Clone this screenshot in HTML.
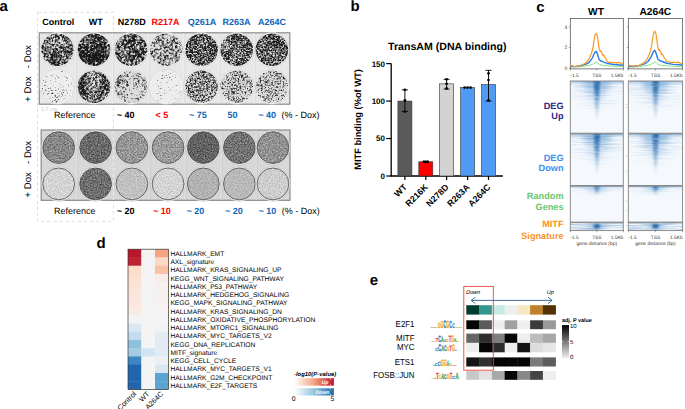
<!DOCTYPE html><html><head><meta charset="utf-8"><style>html,body{margin:0;padding:0;background:#fff;width:685px;height:409px;overflow:hidden}text{font-family:"Liberation Sans", sans-serif;text-rendering:geometricPrecision}</style></head><body><svg width="685" height="409" viewBox="0 0 685 409" style="position:absolute;left:0;top:0;font-family:'Liberation Sans', sans-serif"><defs><filter id="n1" x="0" y="0" width="1" height="1" color-interpolation-filters="sRGB"><feTurbulence type="fractalNoise" baseFrequency="0.45" numOctaves="3" seed="1" result="h0"/><feColorMatrix in="h0" type="matrix" values="1 0 0 0 0 1 0 0 0 0 1 0 0 0 0 0 0 0 0 1" result="h"/><feTurbulence type="fractalNoise" baseFrequency="0.08" numOctaves="2" seed="51" result="l0"/><feColorMatrix in="l0" type="matrix" values="1 0 0 0 0 1 0 0 0 0 1 0 0 0 0 0 0 0 0 1" result="l"/><feComposite in="h" in2="l" operator="arithmetic" k1="0" k2="0.68966" k3="0.31034" k4="0" result="s"/><feComponentTransfer in="s"><feFuncR type="linear" slope="4.3500" intercept="-1.7345"/><feFuncG type="linear" slope="4.3500" intercept="-1.7345"/><feFuncB type="linear" slope="4.3500" intercept="-1.7345"/></feComponentTransfer><feComponentTransfer><feFuncR type="linear" slope="0.770" intercept="0.1"/><feFuncG type="linear" slope="0.770" intercept="0.1"/><feFuncB type="linear" slope="0.770" intercept="0.1"/></feComponentTransfer><feGaussianBlur stdDeviation="0.5"/><feComposite operator="in" in2="SourceGraphic"/></filter><filter id="n2" x="0" y="0" width="1" height="1" color-interpolation-filters="sRGB"><feTurbulence type="fractalNoise" baseFrequency="0.45" numOctaves="3" seed="2" result="h0"/><feColorMatrix in="h0" type="matrix" values="1 0 0 0 0 1 0 0 0 0 1 0 0 0 0 0 0 0 0 1" result="h"/><feTurbulence type="fractalNoise" baseFrequency="0.08" numOctaves="2" seed="52" result="l0"/><feColorMatrix in="l0" type="matrix" values="1 0 0 0 0 1 0 0 0 0 1 0 0 0 0 0 0 0 0 1" result="l"/><feComposite in="h" in2="l" operator="arithmetic" k1="0" k2="0.68966" k3="0.31034" k4="0" result="s"/><feComponentTransfer in="s"><feFuncR type="linear" slope="4.3500" intercept="-2.1153"/><feFuncG type="linear" slope="4.3500" intercept="-2.1153"/><feFuncB type="linear" slope="4.3500" intercept="-2.1153"/></feComponentTransfer><feComponentTransfer><feFuncR type="linear" slope="0.770" intercept="0.1"/><feFuncG type="linear" slope="0.770" intercept="0.1"/><feFuncB type="linear" slope="0.770" intercept="0.1"/></feComponentTransfer><feGaussianBlur stdDeviation="0.5"/><feComposite operator="in" in2="SourceGraphic"/></filter><filter id="n3" x="0" y="0" width="1" height="1" color-interpolation-filters="sRGB"><feTurbulence type="fractalNoise" baseFrequency="0.45" numOctaves="3" seed="3" result="h0"/><feColorMatrix in="h0" type="matrix" values="1 0 0 0 0 1 0 0 0 0 1 0 0 0 0 0 0 0 0 1" result="h"/><feTurbulence type="fractalNoise" baseFrequency="0.08" numOctaves="2" seed="53" result="l0"/><feColorMatrix in="l0" type="matrix" values="1 0 0 0 0 1 0 0 0 0 1 0 0 0 0 0 0 0 0 1" result="l"/><feComposite in="h" in2="l" operator="arithmetic" k1="0" k2="0.68966" k3="0.31034" k4="0" result="s"/><feComponentTransfer in="s"><feFuncR type="linear" slope="4.3500" intercept="-1.7505"/><feFuncG type="linear" slope="4.3500" intercept="-1.7505"/><feFuncB type="linear" slope="4.3500" intercept="-1.7505"/></feComponentTransfer><feComponentTransfer><feFuncR type="linear" slope="0.770" intercept="0.1"/><feFuncG type="linear" slope="0.770" intercept="0.1"/><feFuncB type="linear" slope="0.770" intercept="0.1"/></feComponentTransfer><feGaussianBlur stdDeviation="0.5"/><feComposite operator="in" in2="SourceGraphic"/></filter><filter id="n4" x="0" y="0" width="1" height="1" color-interpolation-filters="sRGB"><feTurbulence type="fractalNoise" baseFrequency="0.45" numOctaves="3" seed="4" result="h0"/><feColorMatrix in="h0" type="matrix" values="1 0 0 0 0 1 0 0 0 0 1 0 0 0 0 0 0 0 0 1" result="h"/><feTurbulence type="fractalNoise" baseFrequency="0.08" numOctaves="2" seed="54" result="l0"/><feColorMatrix in="l0" type="matrix" values="1 0 0 0 0 1 0 0 0 0 1 0 0 0 0 0 0 0 0 1" result="l"/><feComposite in="h" in2="l" operator="arithmetic" k1="0" k2="0.68966" k3="0.31034" k4="0" result="s"/><feComponentTransfer in="s"><feFuncR type="linear" slope="4.3500" intercept="-1.4801"/><feFuncG type="linear" slope="4.3500" intercept="-1.4801"/><feFuncB type="linear" slope="4.3500" intercept="-1.4801"/></feComponentTransfer><feComponentTransfer><feFuncR type="linear" slope="0.770" intercept="0.1"/><feFuncG type="linear" slope="0.770" intercept="0.1"/><feFuncB type="linear" slope="0.770" intercept="0.1"/></feComponentTransfer><feGaussianBlur stdDeviation="0.5"/><feComposite operator="in" in2="SourceGraphic"/></filter><filter id="n5" x="0" y="0" width="1" height="1" color-interpolation-filters="sRGB"><feTurbulence type="fractalNoise" baseFrequency="0.6" numOctaves="3" seed="5" result="h0"/><feColorMatrix in="h0" type="matrix" values="1 0 0 0 0 1 0 0 0 0 1 0 0 0 0 0 0 0 0 1" result="h"/><feTurbulence type="fractalNoise" baseFrequency="0.1" numOctaves="2" seed="55" result="l0"/><feColorMatrix in="l0" type="matrix" values="1 0 0 0 0 1 0 0 0 0 1 0 0 0 0 0 0 0 0 1" result="l"/><feComposite in="h" in2="l" operator="arithmetic" k1="0" k2="0.76923" k3="0.23077" k4="0" result="s"/><feComponentTransfer in="s"><feFuncR type="linear" slope="3.9000" intercept="-1.6120"/><feFuncG type="linear" slope="3.9000" intercept="-1.6120"/><feFuncB type="linear" slope="3.9000" intercept="-1.6120"/></feComponentTransfer><feComponentTransfer><feFuncR type="linear" slope="0.770" intercept="0.1"/><feFuncG type="linear" slope="0.770" intercept="0.1"/><feFuncB type="linear" slope="0.770" intercept="0.1"/></feComponentTransfer><feGaussianBlur stdDeviation="0.45"/><feComposite operator="in" in2="SourceGraphic"/></filter><filter id="n6" x="0" y="0" width="1" height="1" color-interpolation-filters="sRGB"><feTurbulence type="fractalNoise" baseFrequency="0.6" numOctaves="3" seed="6" result="h0"/><feColorMatrix in="h0" type="matrix" values="1 0 0 0 0 1 0 0 0 0 1 0 0 0 0 0 0 0 0 1" result="h"/><feTurbulence type="fractalNoise" baseFrequency="0.1" numOctaves="2" seed="56" result="l0"/><feColorMatrix in="l0" type="matrix" values="1 0 0 0 0 1 0 0 0 0 1 0 0 0 0 0 0 0 0 1" result="l"/><feComposite in="h" in2="l" operator="arithmetic" k1="0" k2="0.76923" k3="0.23077" k4="0" result="s"/><feComponentTransfer in="s"><feFuncR type="linear" slope="3.9000" intercept="-1.5513"/><feFuncG type="linear" slope="3.9000" intercept="-1.5513"/><feFuncB type="linear" slope="3.9000" intercept="-1.5513"/></feComponentTransfer><feComponentTransfer><feFuncR type="linear" slope="0.770" intercept="0.1"/><feFuncG type="linear" slope="0.770" intercept="0.1"/><feFuncB type="linear" slope="0.770" intercept="0.1"/></feComponentTransfer><feGaussianBlur stdDeviation="0.45"/><feComposite operator="in" in2="SourceGraphic"/></filter><filter id="n7" x="0" y="0" width="1" height="1" color-interpolation-filters="sRGB"><feTurbulence type="fractalNoise" baseFrequency="0.6" numOctaves="3" seed="7" result="h0"/><feColorMatrix in="h0" type="matrix" values="1 0 0 0 0 1 0 0 0 0 1 0 0 0 0 0 0 0 0 1" result="h"/><feTurbulence type="fractalNoise" baseFrequency="0.1" numOctaves="2" seed="57" result="l0"/><feColorMatrix in="l0" type="matrix" values="1 0 0 0 0 1 0 0 0 0 1 0 0 0 0 0 0 0 0 1" result="l"/><feComposite in="h" in2="l" operator="arithmetic" k1="0" k2="0.76923" k3="0.23077" k4="0" result="s"/><feComponentTransfer in="s"><feFuncR type="linear" slope="3.9000" intercept="-1.6012"/><feFuncG type="linear" slope="3.9000" intercept="-1.6012"/><feFuncB type="linear" slope="3.9000" intercept="-1.6012"/></feComponentTransfer><feComponentTransfer><feFuncR type="linear" slope="0.770" intercept="0.1"/><feFuncG type="linear" slope="0.770" intercept="0.1"/><feFuncB type="linear" slope="0.770" intercept="0.1"/></feComponentTransfer><feGaussianBlur stdDeviation="0.45"/><feComposite operator="in" in2="SourceGraphic"/></filter><filter id="n8" x="0" y="0" width="1" height="1" color-interpolation-filters="sRGB"><feTurbulence type="fractalNoise" baseFrequency="0.6" numOctaves="2" seed="8" result="h0"/><feColorMatrix in="h0" type="matrix" values="1 0 0 0 0 1 0 0 0 0 1 0 0 0 0 0 0 0 0 1" result="h"/><feTurbulence type="fractalNoise" baseFrequency="0.08" numOctaves="2" seed="58" result="l0"/><feColorMatrix in="l0" type="matrix" values="1 0 0 0 0 1 0 0 0 0 1 0 0 0 0 0 0 0 0 1" result="l"/><feComposite in="h" in2="l" operator="arithmetic" k1="0" k2="0.68966" k3="0.31034" k4="0" result="s"/><feComponentTransfer in="s"><feFuncR type="linear" slope="4.3500" intercept="-0.8199"/><feFuncG type="linear" slope="4.3500" intercept="-0.8199"/><feFuncB type="linear" slope="4.3500" intercept="-0.8199"/></feComponentTransfer><feComponentTransfer><feFuncR type="linear" slope="0.830" intercept="0.1"/><feFuncG type="linear" slope="0.830" intercept="0.1"/><feFuncB type="linear" slope="0.830" intercept="0.1"/></feComponentTransfer><feGaussianBlur stdDeviation="0.45"/><feComposite operator="in" in2="SourceGraphic"/></filter><filter id="n9" x="0" y="0" width="1" height="1" color-interpolation-filters="sRGB"><feTurbulence type="fractalNoise" baseFrequency="0.45" numOctaves="3" seed="9" result="h0"/><feColorMatrix in="h0" type="matrix" values="1 0 0 0 0 1 0 0 0 0 1 0 0 0 0 0 0 0 0 1" result="h"/><feTurbulence type="fractalNoise" baseFrequency="0.08" numOctaves="2" seed="59" result="l0"/><feColorMatrix in="l0" type="matrix" values="1 0 0 0 0 1 0 0 0 0 1 0 0 0 0 0 0 0 0 1" result="l"/><feComposite in="h" in2="l" operator="arithmetic" k1="0" k2="0.68966" k3="0.31034" k4="0" result="s"/><feComponentTransfer in="s"><feFuncR type="linear" slope="4.3500" intercept="-1.7468"/><feFuncG type="linear" slope="4.3500" intercept="-1.7468"/><feFuncB type="linear" slope="4.3500" intercept="-1.7468"/></feComponentTransfer><feComponentTransfer><feFuncR type="linear" slope="0.770" intercept="0.1"/><feFuncG type="linear" slope="0.770" intercept="0.1"/><feFuncB type="linear" slope="0.770" intercept="0.1"/></feComponentTransfer><feGaussianBlur stdDeviation="0.5"/><feComposite operator="in" in2="SourceGraphic"/></filter><filter id="n10" x="0" y="0" width="1" height="1" color-interpolation-filters="sRGB"><feTurbulence type="fractalNoise" baseFrequency="0.45" numOctaves="3" seed="10" result="h0"/><feColorMatrix in="h0" type="matrix" values="1 0 0 0 0 1 0 0 0 0 1 0 0 0 0 0 0 0 0 1" result="h"/><feTurbulence type="fractalNoise" baseFrequency="0.08" numOctaves="2" seed="60" result="l0"/><feColorMatrix in="l0" type="matrix" values="1 0 0 0 0 1 0 0 0 0 1 0 0 0 0 0 0 0 0 1" result="l"/><feComposite in="h" in2="l" operator="arithmetic" k1="0" k2="0.68966" k3="0.31034" k4="0" result="s"/><feComponentTransfer in="s"><feFuncR type="linear" slope="4.3500" intercept="-1.2639"/><feFuncG type="linear" slope="4.3500" intercept="-1.2639"/><feFuncB type="linear" slope="4.3500" intercept="-1.2639"/></feComponentTransfer><feComponentTransfer><feFuncR type="linear" slope="0.770" intercept="0.1"/><feFuncG type="linear" slope="0.770" intercept="0.1"/><feFuncB type="linear" slope="0.770" intercept="0.1"/></feComponentTransfer><feGaussianBlur stdDeviation="0.5"/><feComposite operator="in" in2="SourceGraphic"/></filter><filter id="n11" x="0" y="0" width="1" height="1" color-interpolation-filters="sRGB"><feTurbulence type="fractalNoise" baseFrequency="0.6" numOctaves="2" seed="11" result="h0"/><feColorMatrix in="h0" type="matrix" values="1 0 0 0 0 1 0 0 0 0 1 0 0 0 0 0 0 0 0 1" result="h"/><feTurbulence type="fractalNoise" baseFrequency="0.08" numOctaves="2" seed="61" result="l0"/><feColorMatrix in="l0" type="matrix" values="1 0 0 0 0 1 0 0 0 0 1 0 0 0 0 0 0 0 0 1" result="l"/><feComposite in="h" in2="l" operator="arithmetic" k1="0" k2="0.68966" k3="0.31034" k4="0" result="s"/><feComponentTransfer in="s"><feFuncR type="linear" slope="4.3500" intercept="-0.6969"/><feFuncG type="linear" slope="4.3500" intercept="-0.6969"/><feFuncB type="linear" slope="4.3500" intercept="-0.6969"/></feComponentTransfer><feComponentTransfer><feFuncR type="linear" slope="0.830" intercept="0.1"/><feFuncG type="linear" slope="0.830" intercept="0.1"/><feFuncB type="linear" slope="0.830" intercept="0.1"/></feComponentTransfer><feGaussianBlur stdDeviation="0.45"/><feComposite operator="in" in2="SourceGraphic"/></filter><filter id="n12" x="0" y="0" width="1" height="1" color-interpolation-filters="sRGB"><feTurbulence type="fractalNoise" baseFrequency="0.6" numOctaves="3" seed="12" result="h0"/><feColorMatrix in="h0" type="matrix" values="1 0 0 0 0 1 0 0 0 0 1 0 0 0 0 0 0 0 0 1" result="h"/><feTurbulence type="fractalNoise" baseFrequency="0.1" numOctaves="2" seed="62" result="l0"/><feColorMatrix in="l0" type="matrix" values="1 0 0 0 0 1 0 0 0 0 1 0 0 0 0 0 0 0 0 1" result="l"/><feComposite in="h" in2="l" operator="arithmetic" k1="0" k2="0.76923" k3="0.23077" k4="0" result="s"/><feComponentTransfer in="s"><feFuncR type="linear" slope="3.9000" intercept="-1.3485"/><feFuncG type="linear" slope="3.9000" intercept="-1.3485"/><feFuncB type="linear" slope="3.9000" intercept="-1.3485"/></feComponentTransfer><feComponentTransfer><feFuncR type="linear" slope="0.770" intercept="0.1"/><feFuncG type="linear" slope="0.770" intercept="0.1"/><feFuncB type="linear" slope="0.770" intercept="0.1"/></feComponentTransfer><feGaussianBlur stdDeviation="0.45"/><feComposite operator="in" in2="SourceGraphic"/></filter><filter id="n13" x="0" y="0" width="1" height="1" color-interpolation-filters="sRGB"><feTurbulence type="fractalNoise" baseFrequency="0.6" numOctaves="3" seed="13" result="h0"/><feColorMatrix in="h0" type="matrix" values="1 0 0 0 0 1 0 0 0 0 1 0 0 0 0 0 0 0 0 1" result="h"/><feTurbulence type="fractalNoise" baseFrequency="0.1" numOctaves="2" seed="63" result="l0"/><feColorMatrix in="l0" type="matrix" values="1 0 0 0 0 1 0 0 0 0 1 0 0 0 0 0 0 0 0 1" result="l"/><feComposite in="h" in2="l" operator="arithmetic" k1="0" k2="0.76923" k3="0.23077" k4="0" result="s"/><feComponentTransfer in="s"><feFuncR type="linear" slope="3.9000" intercept="-1.1314"/><feFuncG type="linear" slope="3.9000" intercept="-1.1314"/><feFuncB type="linear" slope="3.9000" intercept="-1.1314"/></feComponentTransfer><feComponentTransfer><feFuncR type="linear" slope="0.770" intercept="0.1"/><feFuncG type="linear" slope="0.770" intercept="0.1"/><feFuncB type="linear" slope="0.770" intercept="0.1"/></feComponentTransfer><feGaussianBlur stdDeviation="0.45"/><feComposite operator="in" in2="SourceGraphic"/></filter><filter id="n14" x="0" y="0" width="1" height="1" color-interpolation-filters="sRGB"><feTurbulence type="fractalNoise" baseFrequency="0.6" numOctaves="3" seed="14" result="h0"/><feColorMatrix in="h0" type="matrix" values="1 0 0 0 0 1 0 0 0 0 1 0 0 0 0 0 0 0 0 1" result="h"/><feTurbulence type="fractalNoise" baseFrequency="0.1" numOctaves="2" seed="64" result="l0"/><feColorMatrix in="l0" type="matrix" values="1 0 0 0 0 1 0 0 0 0 1 0 0 0 0 0 0 0 0 1" result="l"/><feComposite in="h" in2="l" operator="arithmetic" k1="0" k2="0.76923" k3="0.23077" k4="0" result="s"/><feComponentTransfer in="s"><feFuncR type="linear" slope="3.9000" intercept="-1.0968"/><feFuncG type="linear" slope="3.9000" intercept="-1.0968"/><feFuncB type="linear" slope="3.9000" intercept="-1.0968"/></feComponentTransfer><feComponentTransfer><feFuncR type="linear" slope="0.770" intercept="0.1"/><feFuncG type="linear" slope="0.770" intercept="0.1"/><feFuncB type="linear" slope="0.770" intercept="0.1"/></feComponentTransfer><feGaussianBlur stdDeviation="0.45"/><feComposite operator="in" in2="SourceGraphic"/></filter><filter id="n15" x="0" y="0" width="1" height="1" color-interpolation-filters="sRGB"><feTurbulence type="fractalNoise" baseFrequency="0.72" numOctaves="2" seed="15"/><feColorMatrix type="matrix" values="0.62 0 0 0 0.2196 0.62 0 0 0 0.2196 0.62 0 0 0 0.2196 0 0 0 0 1"/><feGaussianBlur stdDeviation="0.15"/><feComposite operator="in" in2="SourceGraphic"/></filter><filter id="n16" x="0" y="0" width="1" height="1" color-interpolation-filters="sRGB"><feTurbulence type="fractalNoise" baseFrequency="0.72" numOctaves="2" seed="16"/><feColorMatrix type="matrix" values="0.62 0 0 0 0.1023 0.62 0 0 0 0.1023 0.62 0 0 0 0.1023 0 0 0 0 1"/><feGaussianBlur stdDeviation="0.15"/><feComposite operator="in" in2="SourceGraphic"/></filter><filter id="n17" x="0" y="0" width="1" height="1" color-interpolation-filters="sRGB"><feTurbulence type="fractalNoise" baseFrequency="0.72" numOctaves="2" seed="17"/><feColorMatrix type="matrix" values="0.62 0 0 0 0.2790 0.62 0 0 0 0.2790 0.62 0 0 0 0.2790 0 0 0 0 1"/><feGaussianBlur stdDeviation="0.15"/><feComposite operator="in" in2="SourceGraphic"/></filter><filter id="n18" x="0" y="0" width="1" height="1" color-interpolation-filters="sRGB"><feTurbulence type="fractalNoise" baseFrequency="0.72" numOctaves="2" seed="18"/><feColorMatrix type="matrix" values="0.62 0 0 0 0.2979 0.62 0 0 0 0.2979 0.62 0 0 0 0.2979 0 0 0 0 1"/><feGaussianBlur stdDeviation="0.15"/><feComposite operator="in" in2="SourceGraphic"/></filter><filter id="n19" x="0" y="0" width="1" height="1" color-interpolation-filters="sRGB"><feTurbulence type="fractalNoise" baseFrequency="0.72" numOctaves="2" seed="19"/><feColorMatrix type="matrix" values="0.62 0 0 0 0.0721 0.62 0 0 0 0.0721 0.62 0 0 0 0.0721 0 0 0 0 1"/><feGaussianBlur stdDeviation="0.15"/><feComposite operator="in" in2="SourceGraphic"/></filter><filter id="n20" x="0" y="0" width="1" height="1" color-interpolation-filters="sRGB"><feTurbulence type="fractalNoise" baseFrequency="0.72" numOctaves="2" seed="20"/><feColorMatrix type="matrix" values="0.62 0 0 0 0.1424 0.62 0 0 0 0.1424 0.62 0 0 0 0.1424 0 0 0 0 1"/><feGaussianBlur stdDeviation="0.15"/><feComposite operator="in" in2="SourceGraphic"/></filter><filter id="n21" x="0" y="0" width="1" height="1" color-interpolation-filters="sRGB"><feTurbulence type="fractalNoise" baseFrequency="0.72" numOctaves="2" seed="21"/><feColorMatrix type="matrix" values="0.62 0 0 0 0.2593 0.62 0 0 0 0.2593 0.62 0 0 0 0.2593 0 0 0 0 1"/><feGaussianBlur stdDeviation="0.15"/><feComposite operator="in" in2="SourceGraphic"/></filter><filter id="n22" x="0" y="0" width="1" height="1" color-interpolation-filters="sRGB"><feTurbulence type="fractalNoise" baseFrequency="0.72" numOctaves="2" seed="22"/><feColorMatrix type="matrix" values="0.32 0 0 0 0.6736 0.32 0 0 0 0.6736 0.32 0 0 0 0.6736 0 0 0 0 1"/><feGaussianBlur stdDeviation="0.15"/><feComposite operator="in" in2="SourceGraphic"/></filter><filter id="n23" x="0" y="0" width="1" height="1" color-interpolation-filters="sRGB"><feTurbulence type="fractalNoise" baseFrequency="0.72" numOctaves="2" seed="23"/><feColorMatrix type="matrix" values="0.62 0 0 0 0.1228 0.62 0 0 0 0.1228 0.62 0 0 0 0.1228 0 0 0 0 1"/><feGaussianBlur stdDeviation="0.15"/><feComposite operator="in" in2="SourceGraphic"/></filter><filter id="n24" x="0" y="0" width="1" height="1" color-interpolation-filters="sRGB"><feTurbulence type="fractalNoise" baseFrequency="0.72" numOctaves="2" seed="24"/><feColorMatrix type="matrix" values="0.32 0 0 0 0.5946 0.32 0 0 0 0.5946 0.32 0 0 0 0.5946 0 0 0 0 1"/><feGaussianBlur stdDeviation="0.15"/><feComposite operator="in" in2="SourceGraphic"/></filter><filter id="n25" x="0" y="0" width="1" height="1" color-interpolation-filters="sRGB"><feTurbulence type="fractalNoise" baseFrequency="0.72" numOctaves="2" seed="25"/><feColorMatrix type="matrix" values="0.32 0 0 0 0.6721 0.32 0 0 0 0.6721 0.32 0 0 0 0.6721 0 0 0 0 1"/><feGaussianBlur stdDeviation="0.15"/><feComposite operator="in" in2="SourceGraphic"/></filter><filter id="n26" x="0" y="0" width="1" height="1" color-interpolation-filters="sRGB"><feTurbulence type="fractalNoise" baseFrequency="0.72" numOctaves="2" seed="26"/><feColorMatrix type="matrix" values="0.32 0 0 0 0.5375 0.32 0 0 0 0.5375 0.32 0 0 0 0.5375 0 0 0 0 1"/><feGaussianBlur stdDeviation="0.15"/><feComposite operator="in" in2="SourceGraphic"/></filter><filter id="n27" x="0" y="0" width="1" height="1" color-interpolation-filters="sRGB"><feTurbulence type="fractalNoise" baseFrequency="0.72" numOctaves="2" seed="27"/><feColorMatrix type="matrix" values="0.32 0 0 0 0.5658 0.32 0 0 0 0.5658 0.32 0 0 0 0.5658 0 0 0 0 1"/><feGaussianBlur stdDeviation="0.15"/><feComposite operator="in" in2="SourceGraphic"/></filter><filter id="n28" x="0" y="0" width="1" height="1" color-interpolation-filters="sRGB"><feTurbulence type="fractalNoise" baseFrequency="0.72" numOctaves="2" seed="28"/><feColorMatrix type="matrix" values="0.32 0 0 0 0.6461 0.32 0 0 0 0.6461 0.32 0 0 0 0.6461 0 0 0 0 1"/><feGaussianBlur stdDeviation="0.15"/><feComposite operator="in" in2="SourceGraphic"/></filter><filter id="bl1" x="-0.5" y="-0.5" width="2" height="2"><feGaussianBlur stdDeviation="0.9 1.2"/></filter><filter id="coreF" x="-0.5" y="-0.2" width="2" height="1.4" color-interpolation-filters="sRGB"><feGaussianBlur in="SourceGraphic" stdDeviation="1.0 0.8" result="b"/><feTurbulence type="fractalNoise" baseFrequency="0.08 0.8" numOctaves="2" seed="5" result="t"/><feColorMatrix in="t" type="matrix" values="0 0 0 0 1  0 0 0 0 1  0 0 0 0 1  1.6 0 0 0 0.2" result="ta"/><feComposite in="b" in2="ta" operator="in"/></filter><filter id="bl3" x="-0.5" y="-0.5" width="2" height="2"><feGaussianBlur stdDeviation="3.5 2"/></filter><filter id="hstreak" x="0" y="0" width="1" height="1" color-interpolation-filters="sRGB"><feTurbulence type="fractalNoise" baseFrequency="0.04 0.9" numOctaves="2" seed="7"/><feColorMatrix type="matrix" values="0 0 0 0 0.13  0 0 0 0 0.40  0 0 0 0 0.67  1.6 0 0 0 -0.6"/><feComposite operator="in" in2="SourceGraphic"/></filter><linearGradient id="vfade" x1="0" x2="0" y1="0" y2="1"><stop offset="0" stop-color="#fff" stop-opacity="1"/><stop offset="0.35" stop-color="#fff" stop-opacity="0.45"/><stop offset="1" stop-color="#fff" stop-opacity="0"/></linearGradient><radialGradient id="hfadeR" cx="0.5" cy="0" r="0.75" fx="0.5" fy="0"><stop offset="0" stop-color="#fff" stop-opacity="1"/><stop offset="0.5" stop-color="#fff" stop-opacity="0.5"/><stop offset="1" stop-color="#fff" stop-opacity="0"/></radialGradient><mask id="mStreak" maskContentUnits="objectBoundingBox"><rect x="0" y="0" width="1" height="1" fill="url(#hfadeR)"/></mask><linearGradient id="corefade" x1="0" x2="0" y1="0" y2="1"><stop offset="0" stop-color="#1b5c9e" stop-opacity="0.95"/><stop offset="0.3" stop-color="#2166ac" stop-opacity="0.7"/><stop offset="0.7" stop-color="#2166ac" stop-opacity="0.25"/><stop offset="1" stop-color="#2166ac" stop-opacity="0"/></linearGradient><linearGradient id="hazefade" x1="0" x2="0" y1="0" y2="1"><stop offset="0" stop-color="#4a8ccc" stop-opacity="0.55"/><stop offset="0.4" stop-color="#4a8ccc" stop-opacity="0.25"/><stop offset="1" stop-color="#4a8ccc" stop-opacity="0"/></linearGradient><linearGradient id="topband" x1="0" x2="0" y1="0" y2="1"><stop offset="0" stop-color="#6aa2d6" stop-opacity="0.55"/><stop offset="1" stop-color="#6aa2d6" stop-opacity="0"/></linearGradient><clipPath id="hc1"><rect x="570.3" y="81.0" width="53.0" height="52.19999999999999"/></clipPath><clipPath id="hc2"><rect x="570.3" y="133.8" width="53.0" height="51.69999999999999"/></clipPath><clipPath id="hc3"><rect x="570.3" y="186.1" width="53.0" height="36.0"/></clipPath><clipPath id="hc4"><rect x="570.3" y="222.7" width="53.0" height="7.900000000000006"/></clipPath><clipPath id="hc5"><rect x="628.3" y="81.0" width="54.30000000000007" height="52.19999999999999"/></clipPath><clipPath id="hc6"><rect x="628.3" y="133.8" width="54.30000000000007" height="51.69999999999999"/></clipPath><clipPath id="hc7"><rect x="628.3" y="186.1" width="54.30000000000007" height="36.0"/></clipPath><clipPath id="hc8"><rect x="628.3" y="222.7" width="54.30000000000007" height="7.900000000000006"/></clipPath><linearGradient id="gR" x1="0" x2="1"><stop offset="0" stop-color="#fff"/><stop offset="0.5" stop-color="#f4a582"/><stop offset="1" stop-color="#c4122e"/></linearGradient><linearGradient id="gB" x1="0" x2="1"><stop offset="0" stop-color="#fff"/><stop offset="0.5" stop-color="#92c5de"/><stop offset="1" stop-color="#2166ac"/></linearGradient><linearGradient id="gK" x1="0" x2="0" y1="0" y2="1"><stop offset="0" stop-color="#000"/><stop offset="1" stop-color="#f2f2f2"/></linearGradient></defs><text x="-0.5" y="11.3" font-size="15" font-weight="bold" fill="#000" text-anchor="start" >a</text>
<text x="58.2" y="24.8" font-size="9" font-weight="bold" fill="#000" text-anchor="middle" >Control</text>
<text x="95.7" y="24.8" font-size="9" font-weight="bold" fill="#000" text-anchor="middle" >WT</text>
<text x="131.7" y="24.8" font-size="9" font-weight="bold" fill="#000" text-anchor="middle" >N278D</text>
<text x="165.6" y="24.8" font-size="9" font-weight="bold" fill="#ff0000" text-anchor="middle" >R217A</text>
<text x="201.9" y="24.8" font-size="9" font-weight="bold" fill="#1066b9" text-anchor="middle" >Q261A</text>
<text x="236.4" y="24.8" font-size="9" font-weight="bold" fill="#1066b9" text-anchor="middle" >R263A</text>
<text x="272.0" y="24.8" font-size="9" font-weight="bold" fill="#1066b9" text-anchor="middle" >A264C</text>
<rect x="37.5" y="12.3" width="75.9" height="209" fill="none" stroke="#d6d6d6" stroke-width="0.8" stroke-dasharray="3.4,2.7"/>
<rect x="39.3" y="32.8" width="250.5" height="71.4" fill="#e8e8e8" stroke="#8a8a8a" stroke-width="1.2"/>
<rect x="41.2" y="130.0" width="248.8" height="70.3" fill="#d8d8d8" stroke="#8a8a8a" stroke-width="1.2"/>
<line x1="75.8" y1="33.5" x2="75.8" y2="103.6" stroke="#f0f0f0" stroke-width="1.0"/>
<line x1="76.6" y1="33.5" x2="76.6" y2="103.6" stroke="#cfcfcf" stroke-width="0.5"/>
<line x1="112.6" y1="33.5" x2="112.6" y2="103.6" stroke="#f0f0f0" stroke-width="1.0"/>
<line x1="113.39999999999999" y1="33.5" x2="113.39999999999999" y2="103.6" stroke="#cfcfcf" stroke-width="0.5"/>
<line x1="148.6" y1="33.5" x2="148.6" y2="103.6" stroke="#f0f0f0" stroke-width="1.0"/>
<line x1="149.4" y1="33.5" x2="149.4" y2="103.6" stroke="#cfcfcf" stroke-width="0.5"/>
<line x1="184.0" y1="33.5" x2="184.0" y2="103.6" stroke="#f0f0f0" stroke-width="1.0"/>
<line x1="184.8" y1="33.5" x2="184.8" y2="103.6" stroke="#cfcfcf" stroke-width="0.5"/>
<line x1="219.2" y1="33.5" x2="219.2" y2="103.6" stroke="#f0f0f0" stroke-width="1.0"/>
<line x1="220.0" y1="33.5" x2="220.0" y2="103.6" stroke="#cfcfcf" stroke-width="0.5"/>
<line x1="254.4" y1="33.5" x2="254.4" y2="103.6" stroke="#f0f0f0" stroke-width="1.0"/>
<line x1="255.20000000000002" y1="33.5" x2="255.20000000000002" y2="103.6" stroke="#cfcfcf" stroke-width="0.5"/>
<line x1="77.0" y1="130.7" x2="77.0" y2="199.6" stroke="#e6e6e6" stroke-width="1.0"/>
<line x1="77.8" y1="130.7" x2="77.8" y2="199.6" stroke="#b8b8b8" stroke-width="0.5"/>
<line x1="149.3" y1="130.7" x2="149.3" y2="199.6" stroke="#e6e6e6" stroke-width="1.0"/>
<line x1="150.10000000000002" y1="130.7" x2="150.10000000000002" y2="199.6" stroke="#b8b8b8" stroke-width="0.5"/>
<line x1="185.4" y1="130.7" x2="185.4" y2="199.6" stroke="#e6e6e6" stroke-width="1.0"/>
<line x1="186.20000000000002" y1="130.7" x2="186.20000000000002" y2="199.6" stroke="#b8b8b8" stroke-width="0.5"/>
<line x1="221.4" y1="130.7" x2="221.4" y2="199.6" stroke="#e6e6e6" stroke-width="1.0"/>
<line x1="222.20000000000002" y1="130.7" x2="222.20000000000002" y2="199.6" stroke="#b8b8b8" stroke-width="0.5"/>
<line x1="256.3" y1="130.7" x2="256.3" y2="199.6" stroke="#e6e6e6" stroke-width="1.0"/>
<line x1="257.1" y1="130.7" x2="257.1" y2="199.6" stroke="#b8b8b8" stroke-width="0.5"/>
<circle cx="57.4" cy="49.8" r="17.5" fill="#f2f2f2" stroke="#c8c8c8" stroke-width="0.5"/>
<circle cx="57.4" cy="49.8" r="16.3" fill="#000" filter="url(#n1)"/>
<circle cx="94.0" cy="49.8" r="17.5" fill="#f2f2f2" stroke="#c8c8c8" stroke-width="0.5"/>
<circle cx="94.0" cy="49.8" r="16.3" fill="#000" filter="url(#n2)"/>
<circle cx="131.1" cy="49.8" r="17.5" fill="#f2f2f2" stroke="#c8c8c8" stroke-width="0.5"/>
<circle cx="131.1" cy="49.8" r="16.3" fill="#000" filter="url(#n3)"/>
<circle cx="166.2" cy="49.8" r="17.5" fill="#f2f2f2" stroke="#c8c8c8" stroke-width="0.5"/>
<circle cx="166.2" cy="49.8" r="16.3" fill="#000" filter="url(#n4)"/>
<circle cx="201.5" cy="49.8" r="17.5" fill="#f2f2f2" stroke="#c8c8c8" stroke-width="0.5"/>
<circle cx="201.5" cy="49.8" r="16.3" fill="#000" filter="url(#n5)"/>
<circle cx="236.7" cy="49.8" r="17.5" fill="#f2f2f2" stroke="#c8c8c8" stroke-width="0.5"/>
<circle cx="236.7" cy="49.8" r="16.3" fill="#000" filter="url(#n6)"/>
<circle cx="271.9" cy="49.8" r="17.5" fill="#f2f2f2" stroke="#c8c8c8" stroke-width="0.5"/>
<circle cx="271.9" cy="49.8" r="16.3" fill="#000" filter="url(#n7)"/>
<circle cx="57.4" cy="86.8" r="17.5" fill="#f2f2f2" stroke="#c8c8c8" stroke-width="0.5"/>
<circle cx="57.4" cy="86.8" r="16.3" fill="#000" filter="url(#n8)"/>
<circle cx="94.0" cy="86.8" r="17.5" fill="#f2f2f2" stroke="#c8c8c8" stroke-width="0.5"/>
<circle cx="94.0" cy="86.8" r="16.3" fill="#000" filter="url(#n9)"/>
<circle cx="131.1" cy="86.8" r="17.5" fill="#f2f2f2" stroke="#c8c8c8" stroke-width="0.5"/>
<circle cx="131.1" cy="86.8" r="16.3" fill="#000" filter="url(#n10)"/>
<circle cx="166.2" cy="86.8" r="17.5" fill="#f2f2f2" stroke="#c8c8c8" stroke-width="0.5"/>
<circle cx="166.2" cy="86.8" r="16.3" fill="#000" filter="url(#n11)"/>
<circle cx="201.5" cy="86.8" r="17.5" fill="#f2f2f2" stroke="#c8c8c8" stroke-width="0.5"/>
<circle cx="201.5" cy="86.8" r="16.3" fill="#000" filter="url(#n12)"/>
<circle cx="236.7" cy="86.8" r="17.5" fill="#f2f2f2" stroke="#c8c8c8" stroke-width="0.5"/>
<circle cx="236.7" cy="86.8" r="16.3" fill="#000" filter="url(#n13)"/>
<circle cx="271.9" cy="86.8" r="17.5" fill="#f2f2f2" stroke="#c8c8c8" stroke-width="0.5"/>
<circle cx="271.9" cy="86.8" r="16.3" fill="#000" filter="url(#n14)"/>
<circle cx="58.7" cy="147.6" r="17.3" fill="#ececec" stroke="#b8b8b8" stroke-width="0.5"/>
<circle cx="58.7" cy="147.6" r="15.9" fill="#000" filter="url(#n15)"/>
<circle cx="58.7" cy="147.6" r="15.9" fill="none" stroke="#4a4a4a" stroke-width="0.8"/>
<circle cx="95.6" cy="147.6" r="17.3" fill="#ececec" stroke="#b8b8b8" stroke-width="0.5"/>
<circle cx="95.6" cy="147.6" r="15.9" fill="#000" filter="url(#n16)"/>
<circle cx="95.6" cy="147.6" r="15.9" fill="none" stroke="#4a4a4a" stroke-width="0.8"/>
<circle cx="131.9" cy="147.6" r="17.3" fill="#ececec" stroke="#b8b8b8" stroke-width="0.5"/>
<circle cx="131.9" cy="147.6" r="15.9" fill="#000" filter="url(#n17)"/>
<circle cx="131.9" cy="147.6" r="15.9" fill="none" stroke="#4a4a4a" stroke-width="0.8"/>
<circle cx="168.1" cy="147.6" r="17.3" fill="#ececec" stroke="#b8b8b8" stroke-width="0.5"/>
<circle cx="168.1" cy="147.6" r="15.9" fill="#000" filter="url(#n18)"/>
<circle cx="168.1" cy="147.6" r="15.9" fill="none" stroke="#4a4a4a" stroke-width="0.8"/>
<circle cx="203.3" cy="147.6" r="17.3" fill="#ececec" stroke="#b8b8b8" stroke-width="0.5"/>
<circle cx="203.3" cy="147.6" r="15.9" fill="#000" filter="url(#n19)"/>
<circle cx="203.3" cy="147.6" r="15.9" fill="none" stroke="#4a4a4a" stroke-width="0.8"/>
<circle cx="239.4" cy="147.6" r="17.3" fill="#ececec" stroke="#b8b8b8" stroke-width="0.5"/>
<circle cx="239.4" cy="147.6" r="15.9" fill="#000" filter="url(#n20)"/>
<circle cx="239.4" cy="147.6" r="15.9" fill="none" stroke="#4a4a4a" stroke-width="0.8"/>
<circle cx="273.0" cy="147.6" r="17.3" fill="#ececec" stroke="#b8b8b8" stroke-width="0.5"/>
<circle cx="273.0" cy="147.6" r="15.9" fill="#000" filter="url(#n21)"/>
<circle cx="273.0" cy="147.6" r="15.9" fill="none" stroke="#4a4a4a" stroke-width="0.8"/>
<circle cx="58.7" cy="183.9" r="17.3" fill="#ececec" stroke="#b8b8b8" stroke-width="0.5"/>
<circle cx="58.7" cy="183.9" r="15.9" fill="#000" filter="url(#n22)"/>
<circle cx="58.7" cy="183.9" r="15.9" fill="none" stroke="#4a4a4a" stroke-width="0.8"/>
<circle cx="95.6" cy="183.9" r="17.3" fill="#ececec" stroke="#b8b8b8" stroke-width="0.5"/>
<circle cx="95.6" cy="183.9" r="15.9" fill="#000" filter="url(#n23)"/>
<circle cx="95.6" cy="183.9" r="15.9" fill="none" stroke="#4a4a4a" stroke-width="0.8"/>
<circle cx="131.9" cy="183.9" r="17.3" fill="#ececec" stroke="#b8b8b8" stroke-width="0.5"/>
<circle cx="131.9" cy="183.9" r="15.9" fill="#000" filter="url(#n24)"/>
<circle cx="131.9" cy="183.9" r="15.9" fill="none" stroke="#4a4a4a" stroke-width="0.8"/>
<circle cx="168.1" cy="183.9" r="17.3" fill="#ececec" stroke="#b8b8b8" stroke-width="0.5"/>
<circle cx="168.1" cy="183.9" r="15.9" fill="#000" filter="url(#n25)"/>
<circle cx="168.1" cy="183.9" r="15.9" fill="none" stroke="#4a4a4a" stroke-width="0.8"/>
<circle cx="203.3" cy="183.9" r="17.3" fill="#ececec" stroke="#b8b8b8" stroke-width="0.5"/>
<circle cx="203.3" cy="183.9" r="15.9" fill="#000" filter="url(#n26)"/>
<circle cx="203.3" cy="183.9" r="15.9" fill="none" stroke="#4a4a4a" stroke-width="0.8"/>
<circle cx="239.4" cy="183.9" r="17.3" fill="#ececec" stroke="#b8b8b8" stroke-width="0.5"/>
<circle cx="239.4" cy="183.9" r="15.9" fill="#000" filter="url(#n27)"/>
<circle cx="239.4" cy="183.9" r="15.9" fill="none" stroke="#4a4a4a" stroke-width="0.8"/>
<circle cx="273.0" cy="183.9" r="17.3" fill="#ececec" stroke="#b8b8b8" stroke-width="0.5"/>
<circle cx="273.0" cy="183.9" r="15.9" fill="#000" filter="url(#n28)"/>
<circle cx="273.0" cy="183.9" r="15.9" fill="none" stroke="#4a4a4a" stroke-width="0.8"/>
<text x="0" y="0" font-size="9.7" fill="#000" text-anchor="middle" transform="translate(30.9,73.5) rotate(-90)" xml:space="preserve">+ Dox   - Dox</text>
<text x="0" y="0" font-size="9.7" fill="#000" text-anchor="middle" transform="translate(30.9,169.3) rotate(-90)" xml:space="preserve">+ Dox   - Dox</text>
<text x="74.8" y="118.0" font-size="9" font-weight="normal" fill="#000" text-anchor="middle" >Reference</text>
<text x="125.6" y="118.0" font-size="9" font-weight="bold" fill="#000" text-anchor="middle" >~ 40</text>
<text x="162.0" y="118.0" font-size="9" font-weight="bold" fill="#ff0000" text-anchor="middle" >&lt; 5</text>
<text x="197.8" y="118.0" font-size="9" font-weight="bold" fill="#1066b9" text-anchor="middle" >~ 75</text>
<text x="232.5" y="118.0" font-size="9" font-weight="bold" fill="#1066b9" text-anchor="middle" >50</text>
<text x="267.2" y="118.0" font-size="9" font-weight="bold" fill="#1066b9" text-anchor="middle" >~ 40</text>
<text x="281.5" y="118.0" font-size="9" font-weight="normal" fill="#000" text-anchor="start" >(% - Dox)</text>
<text x="74.8" y="214.0" font-size="9" font-weight="normal" fill="#000" text-anchor="middle" >Reference</text>
<text x="125.7" y="214.0" font-size="9" font-weight="bold" fill="#000" text-anchor="middle" >~ 20</text>
<text x="162.0" y="214.0" font-size="9" font-weight="bold" fill="#ff0000" text-anchor="middle" >~ 10</text>
<text x="195.3" y="214.0" font-size="9" font-weight="bold" fill="#1066b9" text-anchor="middle" >~ 20</text>
<text x="234.0" y="214.0" font-size="9" font-weight="bold" fill="#1066b9" text-anchor="middle" >~ 20</text>
<text x="267.5" y="214.0" font-size="9" font-weight="bold" fill="#1066b9" text-anchor="middle" >~ 10</text>
<text x="281.7" y="214.0" font-size="9" font-weight="normal" fill="#000" text-anchor="start" >(% - Dox)</text>
<line x1="113.4" y1="131" x2="113.4" y2="200" stroke="#f2f2f2" stroke-width="0.9" stroke-dasharray="3.4,2.7"/>
<text x="41" y="110.6" font-size="5.3" font-weight="normal" fill="#c4c4c4" text-anchor="start" >1.7 cm</text>
<text x="350.5" y="11.4" font-size="15" font-weight="bold" fill="#000" text-anchor="start" >b</text>
<text x="447.3" y="49.6" font-size="10.6" font-weight="bold" fill="#000" text-anchor="middle" >TransAM (DNA binding)</text>
<line x1="391.2" y1="63.605000000000004" x2="391.2" y2="176.6" stroke="#000" stroke-width="1.3"/>
<line x1="390.6" y1="176.0" x2="502.8" y2="176.0" stroke="#000" stroke-width="1.3"/>
<line x1="386.2" y1="176.0" x2="391.2" y2="176.0" stroke="#000" stroke-width="1.2"/>
<text x="385.0" y="178.9" font-size="8.0" font-weight="bold" fill="#000" text-anchor="end" >0</text>
<line x1="386.2" y1="138.535" x2="391.2" y2="138.535" stroke="#000" stroke-width="1.2"/>
<text x="385.0" y="141.435" font-size="8.0" font-weight="bold" fill="#000" text-anchor="end" >50</text>
<line x1="386.2" y1="101.07000000000001" x2="391.2" y2="101.07000000000001" stroke="#000" stroke-width="1.2"/>
<text x="385.0" y="103.97000000000001" font-size="8.0" font-weight="bold" fill="#000" text-anchor="end" >100</text>
<line x1="386.2" y1="63.605000000000004" x2="391.2" y2="63.605000000000004" stroke="#000" stroke-width="1.2"/>
<text x="385.0" y="66.50500000000001" font-size="8.0" font-weight="bold" fill="#000" text-anchor="end" >150</text>
<text x="0" y="0" font-size="9.3" font-weight="bold" text-anchor="middle" transform="translate(361.2,119.5) rotate(-90)">MITF binding (%of WT)</text>
<rect x="397.9" y="101.07000000000001" width="14" height="74.92999999999999" fill="#5a5a5a" stroke="#333" stroke-width="0.6"/>
<line x1="404.9" y1="89.8305" x2="404.9" y2="111.56020000000001" stroke="#000" stroke-width="0.9"/>
<line x1="401.9" y1="89.8305" x2="407.9" y2="89.8305" stroke="#000" stroke-width="0.9"/>
<line x1="401.9" y1="111.56020000000001" x2="407.9" y2="111.56020000000001" stroke="#000" stroke-width="0.9"/>
<circle cx="404.9" cy="89.8305" r="1.35" fill="#000"/>
<circle cx="404.9" cy="100.3207" r="1.35" fill="#000"/>
<circle cx="404.9" cy="111.56020000000001" r="1.35" fill="#000"/>
<line x1="404.9" y1="176.0" x2="404.9" y2="180.0" stroke="#000" stroke-width="1.2"/>
<text x="0" y="0" font-size="8.8" font-weight="bold" text-anchor="end" transform="translate(407.5,187.8) rotate(-45)">WT</text>
<rect x="418.8" y="161.76330000000002" width="14" height="14.236699999999985" fill="#ff0000" stroke="#333" stroke-width="0.6"/>
<line x1="425.8" y1="161.014" x2="425.8" y2="162.5126" stroke="#000" stroke-width="0.9"/>
<line x1="422.8" y1="161.014" x2="428.8" y2="161.014" stroke="#000" stroke-width="0.9"/>
<line x1="422.8" y1="162.5126" x2="428.8" y2="162.5126" stroke="#000" stroke-width="0.9"/>
<line x1="422.8" y1="161.76330000000002" x2="428.8" y2="161.76330000000002" stroke="#000" stroke-width="1"/>
<circle cx="423.8" cy="161.76330000000002" r="1" fill="#000"/>
<circle cx="425.8" cy="161.76330000000002" r="1" fill="#000"/>
<circle cx="427.8" cy="161.76330000000002" r="1" fill="#000"/>
<line x1="425.8" y1="176.0" x2="425.8" y2="180.0" stroke="#000" stroke-width="1.2"/>
<text x="0" y="0" font-size="8.8" font-weight="bold" text-anchor="end" transform="translate(428.40000000000003,187.8) rotate(-45)">R216K</text>
<rect x="439.6" y="83.8361" width="14" height="92.1639" fill="#d3d3d3" stroke="#333" stroke-width="0.6"/>
<line x1="446.6" y1="79.3403" x2="446.6" y2="89.08120000000001" stroke="#000" stroke-width="0.9"/>
<line x1="443.6" y1="79.3403" x2="449.6" y2="79.3403" stroke="#000" stroke-width="0.9"/>
<line x1="443.6" y1="89.08120000000001" x2="449.6" y2="89.08120000000001" stroke="#000" stroke-width="0.9"/>
<circle cx="446.6" cy="79.3403" r="1.35" fill="#000"/>
<circle cx="446.6" cy="83.8361" r="1.35" fill="#000"/>
<circle cx="446.6" cy="88.3319" r="1.35" fill="#000"/>
<line x1="446.6" y1="176.0" x2="446.6" y2="180.0" stroke="#000" stroke-width="1.2"/>
<text x="0" y="0" font-size="8.8" font-weight="bold" text-anchor="end" transform="translate(449.20000000000005,187.8) rotate(-45)">N278D</text>
<rect x="460.6" y="87.5826" width="14" height="88.4174" fill="#4f9bf4" stroke="#333" stroke-width="0.6"/>
<circle cx="464.6" cy="87.5826" r="1.35" fill="#000"/>
<circle cx="467.6" cy="87.5826" r="1.35" fill="#000"/>
<circle cx="470.6" cy="87.5826" r="1.35" fill="#000"/>
<line x1="467.6" y1="176.0" x2="467.6" y2="180.0" stroke="#000" stroke-width="1.2"/>
<text x="0" y="0" font-size="8.8" font-weight="bold" text-anchor="end" transform="translate(470.20000000000005,187.8) rotate(-45)">R263A</text>
<rect x="481.5" y="84.5854" width="14" height="91.4146" fill="#4f9bf4" stroke="#333" stroke-width="0.6"/>
<line x1="488.5" y1="70.34870000000001" x2="488.5" y2="101.07000000000001" stroke="#000" stroke-width="0.9"/>
<line x1="485.5" y1="70.34870000000001" x2="491.5" y2="70.34870000000001" stroke="#000" stroke-width="0.9"/>
<line x1="485.5" y1="101.07000000000001" x2="491.5" y2="101.07000000000001" stroke="#000" stroke-width="0.9"/>
<circle cx="488.5" cy="73.3459" r="1.35" fill="#000"/>
<circle cx="488.5" cy="80.0896" r="1.35" fill="#000"/>
<circle cx="488.5" cy="100.3207" r="1.35" fill="#000"/>
<line x1="488.5" y1="176.0" x2="488.5" y2="180.0" stroke="#000" stroke-width="1.2"/>
<text x="0" y="0" font-size="8.8" font-weight="bold" text-anchor="end" transform="translate(491.1,187.8) rotate(-45)">A264C</text>
<text x="536.3" y="11.7" font-size="15" font-weight="bold" fill="#000" text-anchor="start" >c</text>
<text x="596.0" y="15.2" font-size="10.2" font-weight="bold" fill="#000" text-anchor="middle" >WT</text>
<text x="655.3" y="15.2" font-size="10.2" font-weight="bold" fill="#000" text-anchor="middle" >A264C</text>
<rect x="570.3" y="18.6" width="53.0" height="50.3" fill="#fff" stroke="#444" stroke-width="0.7"/>
<path d="M570.30,66.85 L581.27,66.64 L590.12,65.19 L593.94,63.54 L596.16,61.88 L597.81,63.02 L599.45,64.57 L602.10,65.19 L608.78,65.92 L623.30,66.64" fill="none" stroke="#80e680" stroke-width="1.0" stroke-linejoin="round"/>
<path d="M570.30,66.33 L575.60,66.64 L580.90,65.51 L586.20,64.06 L589.54,61.88 L592.29,58.05 L593.94,54.22 L595.58,51.43 L596.69,51.95 L597.81,55.26 L599.13,59.61 L600.56,60.74 L603.32,61.88 L607.72,63.54 L614.29,64.57 L623.30,65.19" fill="none" stroke="#2a7be8" stroke-width="1.4" stroke-linejoin="round"/>
<path d="M570.30,65.19 L572.95,66.02 L575.60,66.33 L578.25,66.13 L580.90,65.51 L583.55,64.16 L586.20,62.40 L589.01,59.09 L590.65,55.26 L591.76,52.57 L593.09,46.98 L594.26,39.32 L595.05,34.97 L596.16,33.21 L597.22,35.49 L598.34,42.63 L599.13,48.63 L600.25,51.43 L600.77,50.70 L601.30,51.95 L602.10,53.29 L602.74,55.26 L603.42,54.84 L604.38,56.40 L605.28,57.95 L606.07,59.09 L606.87,60.54 L607.72,61.88 L609.52,62.30 L611.00,62.40 L612.70,62.92 L614.29,62.50 L616.52,62.61 L617.47,63.12 L618.69,62.40 L620.12,62.92 L621.44,63.54 L623.30,64.06" fill="none" stroke="#fa9a28" stroke-width="1.25" stroke-linejoin="round"/>
<line x1="570.3" y1="68.9" x2="570.3" y2="70.5" stroke="#444" stroke-width="0.5"/>
<text x="570.3" y="77.0" font-size="4.8" font-weight="normal" fill="#333" text-anchor="start" >-1.5</text>
<line x1="596.8" y1="68.9" x2="596.8" y2="70.5" stroke="#444" stroke-width="0.5"/>
<text x="596.8" y="77.0" font-size="4.8" font-weight="normal" fill="#333" text-anchor="middle" >TSS</text>
<line x1="623.3" y1="68.9" x2="623.3" y2="70.5" stroke="#444" stroke-width="0.5"/>
<text x="623.3" y="77.0" font-size="4.8" font-weight="normal" fill="#333" text-anchor="end" >1.5Kb</text>
<line x1="568.8" y1="68.3" x2="570.3" y2="68.3" stroke="#444" stroke-width="0.5"/>
<text x="567.3" y="70.1" font-size="5" font-weight="normal" fill="#333" text-anchor="end" >0</text>
<line x1="568.8" y1="47.599999999999994" x2="570.3" y2="47.599999999999994" stroke="#444" stroke-width="0.5"/>
<text x="567.3" y="49.39999999999999" font-size="5" font-weight="normal" fill="#333" text-anchor="end" >2</text>
<line x1="568.8" y1="26.9" x2="570.3" y2="26.9" stroke="#444" stroke-width="0.5"/>
<text x="567.3" y="28.7" font-size="5" font-weight="normal" fill="#333" text-anchor="end" >4</text>
<rect x="628.3" y="18.6" width="54.30000000000007" height="50.3" fill="#fff" stroke="#444" stroke-width="0.7"/>
<path d="M628.30,66.85 L639.54,66.64 L648.61,65.19 L652.52,63.54 L654.80,61.88 L656.48,63.02 L658.16,64.57 L660.88,65.19 L667.72,65.92 L682.60,66.64" fill="none" stroke="#80e680" stroke-width="1.0" stroke-linejoin="round"/>
<path d="M628.30,66.22 L633.73,66.54 L639.16,65.34 L644.59,63.80 L648.01,61.50 L650.83,57.44 L652.52,53.38 L654.20,50.42 L655.34,50.97 L656.48,54.48 L657.84,59.08 L659.31,60.29 L662.13,61.50 L666.64,63.25 L673.37,64.35 L682.60,65.01" fill="none" stroke="#2a7be8" stroke-width="1.4" stroke-linejoin="round"/>
<path d="M628.30,65.01 L631.01,65.89 L633.73,66.22 L636.44,66.00 L639.16,65.34 L641.88,63.91 L644.59,62.05 L647.47,58.54 L649.15,54.48 L650.29,51.62 L651.65,45.70 L652.84,37.58 L653.66,32.97 L654.80,31.11 L655.88,33.52 L657.02,41.09 L657.84,47.46 L658.98,50.42 L659.52,49.65 L660.07,50.97 L660.88,52.39 L661.53,54.48 L662.24,54.04 L663.21,55.68 L664.14,57.33 L664.95,58.54 L665.77,60.07 L666.64,61.50 L668.48,61.94 L670.00,62.05 L671.74,62.60 L673.37,62.16 L675.65,62.27 L676.63,62.81 L677.88,62.05 L679.34,62.60 L680.70,63.25 L682.60,63.80" fill="none" stroke="#fa9a28" stroke-width="1.25" stroke-linejoin="round"/>
<line x1="628.3" y1="68.9" x2="628.3" y2="70.5" stroke="#444" stroke-width="0.5"/>
<text x="628.3" y="77.0" font-size="4.8" font-weight="normal" fill="#333" text-anchor="start" >-1.5</text>
<line x1="655.45" y1="68.9" x2="655.45" y2="70.5" stroke="#444" stroke-width="0.5"/>
<text x="655.45" y="77.0" font-size="4.8" font-weight="normal" fill="#333" text-anchor="middle" >TSS</text>
<line x1="682.6" y1="68.9" x2="682.6" y2="70.5" stroke="#444" stroke-width="0.5"/>
<text x="682.6" y="77.0" font-size="4.8" font-weight="normal" fill="#333" text-anchor="end" >1.5Kb</text>
<line x1="626.8" y1="68.3" x2="628.3" y2="68.3" stroke="#444" stroke-width="0.5"/>
<line x1="626.8" y1="47.599999999999994" x2="628.3" y2="47.599999999999994" stroke="#444" stroke-width="0.5"/>
<line x1="626.8" y1="26.9" x2="628.3" y2="26.9" stroke="#444" stroke-width="0.5"/>
<g clip-path="url(#hc1)">
<rect x="570.3" y="81.0" width="53.0" height="52.19999999999999" fill="#f5f9fd"/>
<g mask="url(#mStreak)"><rect x="570.3" y="81.0" width="53.0" height="42.00" fill="#000" filter="url(#hstreak)" opacity="0.50"/></g>
<rect x="570.3" y="81.0" width="53.0" height="4" fill="url(#topband)" opacity="1.00"/>
<path d="M582.9,81.0 L610.9,81.0 L598.4,111.0 L595.4,111.0 Z" fill="url(#hazefade)" filter="url(#bl3)" opacity="1.00"/>
<path d="M593.6999999999999,80.0 L600.1,80.0 L597.8,121.0 L596.0,121.0 Z" fill="url(#corefade)" filter="url(#coreF)" opacity="1.00"/>
</g>
<rect x="570.3" y="81.0" width="53.0" height="52.19999999999999" fill="none" stroke="#808080" stroke-width="0.9"/>
<g clip-path="url(#hc2)">
<rect x="570.3" y="133.8" width="53.0" height="51.69999999999999" fill="#f5f9fd"/>
<g mask="url(#mStreak)"><rect x="570.3" y="133.8" width="53.0" height="44.80" fill="#000" filter="url(#hstreak)" opacity="0.53"/></g>
<rect x="570.3" y="133.8" width="53.0" height="4" fill="url(#topband)" opacity="1.05"/>
<path d="M581.9,133.8 L611.9,133.8 L598.4,165.8 L595.4,165.8 Z" fill="url(#hazefade)" filter="url(#bl3)" opacity="1.05"/>
<path d="M593.6999999999999,132.8 L600.1,132.8 L597.8,175.8 L596.0,175.8 Z" fill="url(#corefade)" filter="url(#coreF)" opacity="1.05"/>
</g>
<rect x="570.3" y="133.8" width="53.0" height="51.69999999999999" fill="none" stroke="#808080" stroke-width="0.9"/>
<g clip-path="url(#hc3)">
<rect x="570.3" y="186.1" width="53.0" height="36.0" fill="#f5f9fd"/>
<g mask="url(#mStreak)"><rect x="570.3" y="186.1" width="53.0" height="12.60" fill="#000" filter="url(#hstreak)" opacity="0.45"/></g>
<rect x="570.3" y="186.1" width="53.0" height="2.5" fill="url(#topband)" opacity="0.90"/>
<path d="M584.9,186.1 L608.9,186.1 L598.4,195.1 L595.4,195.1 Z" fill="url(#hazefade)" filter="url(#bl3)" opacity="0.90"/>
<path d="M593.6999999999999,185.1 L600.1,185.1 L597.8,195.1 L596.0,195.1 Z" fill="url(#corefade)" filter="url(#coreF)" opacity="0.90"/>
</g>
<rect x="570.3" y="186.1" width="53.0" height="36.0" fill="none" stroke="#808080" stroke-width="0.9"/>
<g clip-path="url(#hc4)"><rect x="570.3" y="222.7" width="53.0" height="7.900000000000006" fill="#eef4fa"/><rect x="570.3" y="222.7" width="53.0" height="7.900000000000006" fill="#000" filter="url(#hstreak)" opacity="0.5"/><ellipse cx="596.9" cy="226.2" rx="9" ry="2.6" fill="#4a8ccc" opacity="0.55" filter="url(#bl3)"/><ellipse cx="596.9" cy="226.29999999999998" rx="3.2" ry="2.2" fill="#1b5c9e" opacity="0.9" filter="url(#bl1)"/></g>
<rect x="570.3" y="222.7" width="53.0" height="7.900000000000006" fill="none" stroke="#808080" stroke-width="0.9"/>
<line x1="570.3" y1="230.6" x2="570.3" y2="232.2" stroke="#444" stroke-width="0.5"/>
<text x="570.3" y="238.6" font-size="4.8" font-weight="normal" fill="#333" text-anchor="start" >-1.5</text>
<line x1="596.8" y1="230.6" x2="596.8" y2="232.2" stroke="#444" stroke-width="0.5"/>
<text x="596.8" y="238.6" font-size="4.8" font-weight="normal" fill="#333" text-anchor="middle" >TSS</text>
<line x1="623.3" y1="230.6" x2="623.3" y2="232.2" stroke="#444" stroke-width="0.5"/>
<text x="623.3" y="238.6" font-size="4.8" font-weight="normal" fill="#333" text-anchor="end" >1.5Kb</text>
<text x="596.8" y="245.0" font-size="4.9" font-weight="normal" fill="#333" text-anchor="middle" >gene distance (bp)</text>
<g clip-path="url(#hc5)">
<rect x="628.3" y="81.0" width="54.30000000000007" height="52.19999999999999" fill="#f5f9fd"/>
<g mask="url(#mStreak)"><rect x="628.3" y="81.0" width="54.30000000000007" height="42.00" fill="#000" filter="url(#hstreak)" opacity="0.50"/></g>
<rect x="628.3" y="81.0" width="54.30000000000007" height="4" fill="url(#topband)" opacity="1.00"/>
<path d="M641.5500000000001,81.0 L669.5500000000001,81.0 L657.0500000000001,111.0 L654.0500000000001,111.0 Z" fill="url(#hazefade)" filter="url(#bl3)" opacity="1.00"/>
<path d="M652.35,80.0 L658.7500000000001,80.0 L656.45,121.0 L654.6500000000001,121.0 Z" fill="url(#corefade)" filter="url(#coreF)" opacity="1.00"/>
</g>
<rect x="628.3" y="81.0" width="54.30000000000007" height="52.19999999999999" fill="none" stroke="#808080" stroke-width="0.9"/>
<g clip-path="url(#hc6)">
<rect x="628.3" y="133.8" width="54.30000000000007" height="51.69999999999999" fill="#f5f9fd"/>
<g mask="url(#mStreak)"><rect x="628.3" y="133.8" width="54.30000000000007" height="44.80" fill="#000" filter="url(#hstreak)" opacity="0.53"/></g>
<rect x="628.3" y="133.8" width="54.30000000000007" height="4" fill="url(#topband)" opacity="1.05"/>
<path d="M640.5500000000001,133.8 L670.5500000000001,133.8 L657.0500000000001,165.8 L654.0500000000001,165.8 Z" fill="url(#hazefade)" filter="url(#bl3)" opacity="1.05"/>
<path d="M652.35,132.8 L658.7500000000001,132.8 L656.45,175.8 L654.6500000000001,175.8 Z" fill="url(#corefade)" filter="url(#coreF)" opacity="1.05"/>
</g>
<rect x="628.3" y="133.8" width="54.30000000000007" height="51.69999999999999" fill="none" stroke="#808080" stroke-width="0.9"/>
<g clip-path="url(#hc7)">
<rect x="628.3" y="186.1" width="54.30000000000007" height="36.0" fill="#f5f9fd"/>
<g mask="url(#mStreak)"><rect x="628.3" y="186.1" width="54.30000000000007" height="12.60" fill="#000" filter="url(#hstreak)" opacity="0.45"/></g>
<rect x="628.3" y="186.1" width="54.30000000000007" height="2.5" fill="url(#topband)" opacity="0.90"/>
<path d="M643.5500000000001,186.1 L667.5500000000001,186.1 L657.0500000000001,195.1 L654.0500000000001,195.1 Z" fill="url(#hazefade)" filter="url(#bl3)" opacity="0.90"/>
<path d="M652.35,185.1 L658.7500000000001,185.1 L656.45,195.1 L654.6500000000001,195.1 Z" fill="url(#corefade)" filter="url(#coreF)" opacity="0.90"/>
</g>
<rect x="628.3" y="186.1" width="54.30000000000007" height="36.0" fill="none" stroke="#808080" stroke-width="0.9"/>
<g clip-path="url(#hc8)"><rect x="628.3" y="222.7" width="54.30000000000007" height="7.900000000000006" fill="#eef4fa"/><rect x="628.3" y="222.7" width="54.30000000000007" height="7.900000000000006" fill="#000" filter="url(#hstreak)" opacity="0.5"/><ellipse cx="655.5500000000001" cy="226.2" rx="9" ry="2.6" fill="#4a8ccc" opacity="0.55" filter="url(#bl3)"/><ellipse cx="655.5500000000001" cy="226.29999999999998" rx="3.2" ry="2.2" fill="#1b5c9e" opacity="0.9" filter="url(#bl1)"/></g>
<rect x="628.3" y="222.7" width="54.30000000000007" height="7.900000000000006" fill="none" stroke="#808080" stroke-width="0.9"/>
<line x1="628.3" y1="230.6" x2="628.3" y2="232.2" stroke="#444" stroke-width="0.5"/>
<text x="628.3" y="238.6" font-size="4.8" font-weight="normal" fill="#333" text-anchor="start" >-1.5</text>
<line x1="655.45" y1="230.6" x2="655.45" y2="232.2" stroke="#444" stroke-width="0.5"/>
<text x="655.45" y="238.6" font-size="4.8" font-weight="normal" fill="#333" text-anchor="middle" >TSS</text>
<line x1="682.6" y1="230.6" x2="682.6" y2="232.2" stroke="#444" stroke-width="0.5"/>
<text x="682.6" y="238.6" font-size="4.8" font-weight="normal" fill="#333" text-anchor="end" >1.5Kb</text>
<text x="655.45" y="245.0" font-size="4.9" font-weight="normal" fill="#333" text-anchor="middle" >gene distance (bp)</text>
<circle cx="626.2" cy="104.6" r="0.45" fill="#888"/>
<circle cx="626.2" cy="107.3" r="0.45" fill="#888"/>
<circle cx="626.2" cy="155.8" r="0.45" fill="#888"/>
<circle cx="626.2" cy="171.0" r="0.45" fill="#888"/>
<circle cx="626.2" cy="201.0" r="0.45" fill="#888"/>
<circle cx="626.2" cy="210.7" r="0.45" fill="#888"/>
<circle cx="626.2" cy="222.0" r="0.45" fill="#888"/>
<circle cx="626.2" cy="225.8" r="0.45" fill="#888"/>
<text x="563.6" y="108.6" font-size="9.2" font-weight="bold" fill="#272787" text-anchor="end" >DEG</text>
<text x="563.6" y="119.4" font-size="9.2" font-weight="bold" fill="#272787" text-anchor="end" >Up</text>
<text x="563.6" y="160.6" font-size="9.2" font-weight="bold" fill="#3b8ef0" text-anchor="end" >DEG</text>
<text x="563.6" y="171.3" font-size="9.2" font-weight="bold" fill="#3b8ef0" text-anchor="end" >Down</text>
<text x="563.6" y="199.0" font-size="9.2" font-weight="bold" fill="#6cc66c" text-anchor="end" >Random</text>
<text x="563.6" y="210.0" font-size="9.2" font-weight="bold" fill="#6cc66c" text-anchor="end" >Genes</text>
<text x="563.6" y="227.1" font-size="9.2" font-weight="bold" fill="#f7941d" text-anchor="end" >MITF</text>
<text x="563.6" y="238.7" font-size="9.2" font-weight="bold" fill="#f7941d" text-anchor="end" >Signature</text>
<text x="96.5" y="248.0" font-size="15" font-weight="bold" fill="#000" text-anchor="start" >d</text>
<rect x="128.0" y="249.20" width="13.70" height="8.65" fill="#b8162b"/>
<rect x="141.3" y="249.20" width="14.10" height="8.65" fill="#f5f2f2"/>
<rect x="155.0" y="249.20" width="13.50" height="8.65" fill="#f5a582"/>
<text x="170.4" y="255.92647058823528" font-size="6.69" font-weight="normal" fill="#000" text-anchor="start" >HALLMARK_EMT</text>
<rect x="128.0" y="257.45" width="13.70" height="8.65" fill="#bf2233"/>
<rect x="141.3" y="257.45" width="14.10" height="8.65" fill="#f3f3f5"/>
<rect x="155.0" y="257.45" width="13.50" height="8.65" fill="#fcd8c5"/>
<text x="170.4" y="264.1794117647059" font-size="6.69" font-weight="normal" fill="#000" text-anchor="start" >AXL_signature</text>
<rect x="128.0" y="265.71" width="13.70" height="8.65" fill="#fcdccb"/>
<rect x="141.3" y="265.71" width="14.10" height="8.65" fill="#f4f3f3"/>
<rect x="155.0" y="265.71" width="13.50" height="8.65" fill="#f9c2a6"/>
<text x="170.4" y="272.4323529411765" font-size="6.69" font-weight="normal" fill="#000" text-anchor="start" >HALLMARK_KRAS_SIGNALING_UP</text>
<rect x="128.0" y="273.96" width="13.70" height="8.65" fill="#fce0d2"/>
<rect x="141.3" y="273.96" width="14.10" height="8.65" fill="#f4f3f3"/>
<rect x="155.0" y="273.96" width="13.50" height="8.65" fill="#f7ece8"/>
<text x="170.4" y="280.68529411764706" font-size="6.69" font-weight="normal" fill="#000" text-anchor="start" >KEGG_WNT_SIGNALING_PATHWAY</text>
<rect x="128.0" y="282.21" width="13.70" height="8.65" fill="#fce3d7"/>
<rect x="141.3" y="282.21" width="14.10" height="8.65" fill="#f4f3f3"/>
<rect x="155.0" y="282.21" width="13.50" height="8.65" fill="#f6f1ef"/>
<text x="170.4" y="288.93823529411765" font-size="6.69" font-weight="normal" fill="#000" text-anchor="start" >HALLMARK_P53_PATHWAY</text>
<rect x="128.0" y="290.46" width="13.70" height="8.65" fill="#fbe6dc"/>
<rect x="141.3" y="290.46" width="14.10" height="8.65" fill="#f4f3f3"/>
<rect x="155.0" y="290.46" width="13.50" height="8.65" fill="#f6f1ef"/>
<text x="170.4" y="297.19117647058823" font-size="6.69" font-weight="normal" fill="#000" text-anchor="start" >HALLMARK_HEDGEHOG_SIGNALING</text>
<rect x="128.0" y="298.72" width="13.70" height="8.65" fill="#fae8e0"/>
<rect x="141.3" y="298.72" width="14.10" height="8.65" fill="#f4f3f3"/>
<rect x="155.0" y="298.72" width="13.50" height="8.65" fill="#f6f1ef"/>
<text x="170.4" y="305.4441176470588" font-size="6.69" font-weight="normal" fill="#000" text-anchor="start" >KEGG_MAPK_SIGNALING_PATHWAY</text>
<rect x="128.0" y="306.97" width="13.70" height="8.65" fill="#f8ebe6"/>
<rect x="141.3" y="306.97" width="14.10" height="8.65" fill="#f4f3f3"/>
<rect x="155.0" y="306.97" width="13.50" height="8.65" fill="#f5f2f1"/>
<text x="170.4" y="313.69705882352946" font-size="6.69" font-weight="normal" fill="#000" text-anchor="start" >HALLMARK_KRAS_SIGNALING_DN</text>
<rect x="128.0" y="315.22" width="13.70" height="8.65" fill="#f3f3f5"/>
<rect x="141.3" y="315.22" width="14.10" height="8.65" fill="#f4f4f4"/>
<rect x="155.0" y="315.22" width="13.50" height="8.65" fill="#f4f4f4"/>
<text x="170.4" y="321.95000000000005" font-size="6.69" font-weight="normal" fill="#000" text-anchor="start" >HALLMARK_OXIDATIVE_PHOSPHORYLATION</text>
<rect x="128.0" y="323.48" width="13.70" height="8.65" fill="#dbe8f3"/>
<rect x="141.3" y="323.48" width="14.10" height="8.65" fill="#f4f4f4"/>
<rect x="155.0" y="323.48" width="13.50" height="8.65" fill="#f1f2f4"/>
<text x="170.4" y="330.20294117647063" font-size="6.69" font-weight="normal" fill="#000" text-anchor="start" >HALLMARK_MTORC1_SIGNALING</text>
<rect x="128.0" y="331.73" width="13.70" height="8.65" fill="#c4dcee"/>
<rect x="141.3" y="331.73" width="14.10" height="8.65" fill="#f4f4f4"/>
<rect x="155.0" y="331.73" width="13.50" height="8.65" fill="#e4ecf3"/>
<text x="170.4" y="338.4558823529412" font-size="6.69" font-weight="normal" fill="#000" text-anchor="start" >HALLMARK_MYC_TARGETS_V2</text>
<rect x="128.0" y="339.98" width="13.70" height="8.65" fill="#8fc0dd"/>
<rect x="141.3" y="339.98" width="14.10" height="8.65" fill="#f4f4f4"/>
<rect x="155.0" y="339.98" width="13.50" height="8.65" fill="#e2ebf3"/>
<text x="170.4" y="346.7088235294118" font-size="6.69" font-weight="normal" fill="#000" text-anchor="start" >KEGG_DNA_REPLICATION</text>
<rect x="128.0" y="348.24" width="13.70" height="8.65" fill="#a3cbe2"/>
<rect x="141.3" y="348.24" width="14.10" height="8.65" fill="#d3e5f2"/>
<rect x="155.0" y="348.24" width="13.50" height="8.65" fill="#e2ebf3"/>
<text x="170.4" y="354.9617647058824" font-size="6.69" font-weight="normal" fill="#000" text-anchor="start" >MITF_signature</text>
<rect x="128.0" y="356.49" width="13.70" height="8.65" fill="#3c87c2"/>
<rect x="141.3" y="356.49" width="14.10" height="8.65" fill="#f4f4f4"/>
<rect x="155.0" y="356.49" width="13.50" height="8.65" fill="#edf0f3"/>
<text x="170.4" y="363.214705882353" font-size="6.69" font-weight="normal" fill="#000" text-anchor="start" >KEGG_CELL_CYCLE</text>
<rect x="128.0" y="364.74" width="13.70" height="8.65" fill="#2166ac"/>
<rect x="141.3" y="364.74" width="14.10" height="8.65" fill="#f4f4f4"/>
<rect x="155.0" y="364.74" width="13.50" height="8.65" fill="#d9e7f3"/>
<text x="170.4" y="371.46764705882356" font-size="6.69" font-weight="normal" fill="#000" text-anchor="start" >HALLMARK_MYC_TARGETS_V1</text>
<rect x="128.0" y="372.99" width="13.70" height="8.65" fill="#2166ac"/>
<rect x="141.3" y="372.99" width="14.10" height="8.65" fill="#f4f4f4"/>
<rect x="155.0" y="372.99" width="13.50" height="8.65" fill="#5ba3d0"/>
<text x="170.4" y="379.72058823529414" font-size="6.69" font-weight="normal" fill="#000" text-anchor="start" >HALLMARK_G2M_CHECKPOINT</text>
<rect x="128.0" y="381.25" width="13.70" height="8.25" fill="#2166ac"/>
<rect x="141.3" y="381.25" width="14.10" height="8.25" fill="#f4f4f4"/>
<rect x="155.0" y="381.25" width="13.50" height="8.25" fill="#5ba3d0"/>
<text x="170.4" y="387.97352941176473" font-size="6.69" font-weight="normal" fill="#000" text-anchor="start" >HALLMARK_E2F_TARGETS</text>
<rect x="128.0" y="249.2" width="40.5" height="140.3" fill="none" stroke="#333" stroke-width="0.7"/>
<text x="0" y="0" font-size="7.2" text-anchor="end" transform="translate(136.7,394.4) rotate(-45)">Control</text>
<text x="0" y="0" font-size="7.2" text-anchor="end" transform="translate(149.79999999999998,394.4) rotate(-45)">WT</text>
<text x="0" y="0" font-size="7.2" text-anchor="end" transform="translate(163.7,394.4) rotate(-45)">A264C</text>
<text x="294.0" y="375.7" font-size="5.9" font-weight="bold" fill="#000" text-anchor="start" font-style="italic">-log10(P-value)</text>
<rect x="294.3" y="378.2" width="39.6" height="7.5" fill="url(#gR)"/>
<rect x="294.3" y="388.2" width="39.6" height="7.3" fill="url(#gB)"/>
<line x1="330.6" y1="378.2" x2="330.6" y2="379.6" stroke="#fff" stroke-width="0.6"/><line x1="330.6" y1="384.3" x2="330.6" y2="385.7" stroke="#fff" stroke-width="0.6"/>
<line x1="330.6" y1="388.2" x2="330.6" y2="389.6" stroke="#fff" stroke-width="0.6"/><line x1="330.6" y1="394.1" x2="330.6" y2="395.5" stroke="#fff" stroke-width="0.6"/>
<text x="328.5" y="384.3" font-size="5.2" font-weight="bold" fill="#fff" text-anchor="end" font-style="italic">Up</text>
<text x="329.5" y="394.0" font-size="5.2" font-weight="bold" fill="#fff" text-anchor="end" font-style="italic">Down</text>
<text x="293.6" y="401.4" font-size="6.8" font-weight="normal" fill="#000" text-anchor="middle" >0</text>
<text x="332.5" y="401.4" font-size="6.8" font-weight="normal" fill="#000" text-anchor="middle" >5</text>
<text x="369.8" y="285.1" font-size="15" font-weight="bold" fill="#000" text-anchor="start" >e</text>
<text x="465.9" y="294.2" font-size="5.6" font-weight="normal" fill="#000" text-anchor="start" font-style="italic">Down</text>
<text x="553.8" y="294.2" font-size="5.6" font-weight="normal" fill="#000" text-anchor="end" font-style="italic">Up</text>
<line x1="471.5" y1="300.4" x2="551.8" y2="300.4" stroke="#2c5b8c" stroke-width="0.9"/>
<path d="M475.3,297.2 L471.2,300.4 L475.3,303.6" fill="none" stroke="#2c5b8c" stroke-width="0.9"/>
<path d="M548,297.2 L552.1,300.4 L548,303.6" fill="none" stroke="#2c5b8c" stroke-width="0.9"/>
<rect x="466.3" y="305.2" width="13.20" height="9.4" fill="#003c30"/>
<rect x="479.1" y="305.2" width="13.20" height="9.4" fill="#35978f"/>
<rect x="491.9" y="305.2" width="13.20" height="9.4" fill="#c7eae5"/>
<rect x="504.7" y="305.2" width="13.00" height="9.4" fill="#eeeeee"/>
<rect x="517.3" y="305.2" width="13.20" height="9.4" fill="#f6e8c3"/>
<rect x="530.1" y="305.2" width="13.20" height="9.4" fill="#bf812d"/>
<rect x="542.9" y="305.2" width="13.00" height="9.4" fill="#543005"/>
<rect x="466.3" y="320.3" width="13.20" height="8.899999999999977" fill="#050505"/>
<rect x="479.1" y="320.3" width="13.20" height="8.899999999999977" fill="#5a5a5a"/>
<rect x="491.9" y="320.3" width="13.20" height="8.899999999999977" fill="#eeeeee"/>
<rect x="504.7" y="320.3" width="13.00" height="8.899999999999977" fill="#a0a0a0"/>
<rect x="517.3" y="320.3" width="13.20" height="8.899999999999977" fill="#efefef"/>
<rect x="530.1" y="320.3" width="13.20" height="8.899999999999977" fill="#3c3c3c"/>
<rect x="542.9" y="320.3" width="13.00" height="8.899999999999977" fill="#9a9a9a"/>
<rect x="466.3" y="333.6" width="13.20" height="9.299999999999955" fill="#666666"/>
<rect x="479.1" y="333.6" width="13.20" height="9.299999999999955" fill="#2e2e2e"/>
<rect x="491.9" y="333.6" width="13.20" height="9.299999999999955" fill="#7e7e7e"/>
<rect x="504.7" y="333.6" width="13.00" height="9.299999999999955" fill="#050505"/>
<rect x="517.3" y="333.6" width="13.20" height="9.299999999999955" fill="#eeeeee"/>
<rect x="530.1" y="333.6" width="13.20" height="9.299999999999955" fill="#bcbcbc"/>
<rect x="542.9" y="333.6" width="13.00" height="9.299999999999955" fill="#a8a8a8"/>
<rect x="466.3" y="342.9" width="13.20" height="9.400000000000034" fill="#eeeeee"/>
<rect x="479.1" y="342.9" width="13.20" height="9.400000000000034" fill="#050505"/>
<rect x="491.9" y="342.9" width="13.20" height="9.400000000000034" fill="#2c2c2c"/>
<rect x="504.7" y="342.9" width="13.00" height="9.400000000000034" fill="#f0f0f0"/>
<rect x="517.3" y="342.9" width="13.20" height="9.400000000000034" fill="#161616"/>
<rect x="530.1" y="342.9" width="13.20" height="9.400000000000034" fill="#dddddd"/>
<rect x="542.9" y="342.9" width="13.00" height="9.400000000000034" fill="#e6e6e6"/>
<rect x="466.3" y="357.4" width="13.20" height="9.100000000000023" fill="#141414"/>
<rect x="479.1" y="357.4" width="13.20" height="9.100000000000023" fill="#303030"/>
<rect x="491.9" y="357.4" width="13.20" height="9.100000000000023" fill="#050505"/>
<rect x="504.7" y="357.4" width="13.00" height="9.100000000000023" fill="#050505"/>
<rect x="517.3" y="357.4" width="13.20" height="9.100000000000023" fill="#050505"/>
<rect x="530.1" y="357.4" width="13.20" height="9.100000000000023" fill="#7a7a7a"/>
<rect x="542.9" y="357.4" width="13.00" height="9.100000000000023" fill="#5d5d5d"/>
<rect x="466.3" y="371.0" width="13.20" height="8.800000000000011" fill="#c8c8c8"/>
<rect x="479.1" y="371.0" width="13.20" height="8.800000000000011" fill="#e2e2e2"/>
<rect x="491.9" y="371.0" width="13.20" height="8.800000000000011" fill="#a8a8a8"/>
<rect x="504.7" y="371.0" width="13.00" height="8.800000000000011" fill="#050505"/>
<rect x="517.3" y="371.0" width="13.20" height="8.800000000000011" fill="#888888"/>
<rect x="530.1" y="371.0" width="13.20" height="8.800000000000011" fill="#444444"/>
<rect x="542.9" y="371.0" width="13.00" height="8.800000000000011" fill="#eeeeee"/>
<text x="0" y="0" font-size="8.7" text-anchor="end" transform="translate(414.5,327.4) scale(0.91,1)">E2F1</text>
<text x="0" y="0" font-size="8.7" text-anchor="end" transform="translate(414.5,341.3) scale(0.91,1)">MITF</text>
<text x="0" y="0" font-size="8.7" text-anchor="end" transform="translate(414.5,350.4) scale(0.91,1)">MYC</text>
<text x="0" y="0" font-size="8.7" text-anchor="end" transform="translate(414.5,365.4) scale(0.91,1)">ETS1</text>
<text x="0" y="0" font-size="8.7" text-anchor="end" transform="translate(414.5,378.0) scale(0.91,1)">FOSB::JUN</text>
<rect x="463.8" y="286.4" width="29.5" height="83.8" fill="none" stroke="#e8453c" stroke-width="0.9"/>
<text x="562.0" y="322.0" font-size="5.45" font-weight="bold" fill="#000" text-anchor="start" >adj. P value</text>
<rect x="562.0" y="325.1" width="7" height="33.3" fill="url(#gK)"/>
<text x="570.0" y="328.4" font-size="6.0" font-weight="normal" fill="#000" text-anchor="start" >10</text>
<text x="570.0" y="343.9" font-size="6.0" font-weight="normal" fill="#000" text-anchor="start" >5</text>
<text x="570.0" y="359.3" font-size="6.0" font-weight="normal" fill="#000" text-anchor="start" >0</text>
<line x1="562" y1="341.5" x2="563.3" y2="341.5" stroke="#fff" stroke-width="0.5"/><line x1="567.7" y1="341.5" x2="569" y2="341.5" stroke="#fff" stroke-width="0.5"/>
<text x="0" y="0" font-size="10" font-weight="bold" fill="#3cb043" stroke="#3cb043" stroke-width="0.35" transform="translate(430.50,328.3) scale(0.201,0.125)">A</text>
<text x="0" y="0" font-size="10" font-weight="bold" fill="#e8424a" stroke="#e8424a" stroke-width="0.35" transform="translate(431.95,328.3) scale(0.238,0.125)">T</text>
<text x="0" y="0" font-size="10" font-weight="bold" fill="#3cb043" stroke="#3cb043" stroke-width="0.35" transform="translate(433.40,328.3) scale(0.201,0.125)">A</text>
<text x="0" y="0" font-size="10" font-weight="bold" fill="#e8424a" stroke="#e8424a" stroke-width="0.35" transform="translate(434.85,328.3) scale(0.238,0.125)">T</text>
<text x="0" y="0" font-size="10" font-weight="bold" fill="#f5a623" stroke="#f5a623" stroke-width="0.35" transform="translate(436.30,328.3) scale(0.186,0.125)">G</text>
<text x="0" y="0" font-size="10" font-weight="bold" fill="#f5a623" stroke="#f5a623" stroke-width="0.35" transform="translate(437.75,328.3) scale(0.346,0.736)">G</text>
<text x="0" y="0" font-size="10" font-weight="bold" fill="#f5a623" stroke="#f5a623" stroke-width="0.35" transform="translate(440.45,328.3) scale(0.397,1.014)">G</text>
<text x="0" y="0" font-size="10" font-weight="bold" fill="#2a78c8" stroke="#2a78c8" stroke-width="0.35" transform="translate(443.55,328.3) scale(0.389,1.083)">C</text>
<text x="0" y="0" font-size="10" font-weight="bold" fill="#f5a623" stroke="#f5a623" stroke-width="0.35" transform="translate(446.35,328.3) scale(0.385,1.042)">G</text>
<text x="0" y="0" font-size="10" font-weight="bold" fill="#2a78c8" stroke="#2a78c8" stroke-width="0.35" transform="translate(449.35,328.3) scale(0.389,1.014)">C</text>
<text x="0" y="0" font-size="10" font-weight="bold" fill="#2a78c8" stroke="#2a78c8" stroke-width="0.35" transform="translate(452.15,328.3) scale(0.347,0.667)">C</text>
<text x="0" y="0" font-size="10" font-weight="bold" fill="#f5a623" stroke="#f5a623" stroke-width="0.35" transform="translate(454.65,328.3) scale(0.186,0.125)">G</text>
<text x="0" y="0" font-size="10" font-weight="bold" fill="#3cb043" stroke="#3cb043" stroke-width="0.35" transform="translate(456.10,328.3) scale(0.201,0.125)">A</text>
<text x="0" y="0" font-size="10" font-weight="bold" fill="#f5a623" stroke="#f5a623" stroke-width="0.35" transform="translate(457.55,328.3) scale(0.186,0.125)">G</text>
<text x="0" y="0" font-size="10" font-weight="bold" fill="#3cb043" stroke="#3cb043" stroke-width="0.35" transform="translate(459.00,328.3) scale(0.201,0.125)">A</text>
<text x="0" y="0" font-size="10" font-weight="bold" fill="#f5a623" stroke="#f5a623" stroke-width="0.35" transform="translate(460.45,328.3) scale(0.186,0.125)">G</text>
<text x="0" y="0" font-size="10" font-weight="bold" fill="#f5a623" stroke="#f5a623" stroke-width="0.35" transform="translate(431.30,341.5) scale(0.186,0.125)">G</text>
<text x="0" y="0" font-size="10" font-weight="bold" fill="#3cb043" stroke="#3cb043" stroke-width="0.35" transform="translate(432.75,341.5) scale(0.201,0.125)">A</text>
<text x="0" y="0" font-size="10" font-weight="bold" fill="#f5a623" stroke="#f5a623" stroke-width="0.35" transform="translate(434.20,341.5) scale(0.186,0.125)">G</text>
<text x="0" y="0" font-size="10" font-weight="bold" fill="#e8424a" stroke="#e8424a" stroke-width="0.35" transform="translate(435.65,341.5) scale(0.410,0.569)">T</text>
<text x="0" y="0" font-size="10" font-weight="bold" fill="#2a78c8" stroke="#2a78c8" stroke-width="0.35" transform="translate(438.15,341.5) scale(0.389,0.917)">C</text>
<text x="0" y="0" font-size="10" font-weight="bold" fill="#3cb043" stroke="#3cb043" stroke-width="0.35" transform="translate(440.95,341.5) scale(0.375,0.764)">A</text>
<text x="0" y="0" font-size="10" font-weight="bold" fill="#2a78c8" stroke="#2a78c8" stroke-width="0.35" transform="translate(443.65,341.5) scale(0.319,0.389)">C</text>
<text x="0" y="0" font-size="10" font-weight="bold" fill="#f5a623" stroke="#f5a623" stroke-width="0.35" transform="translate(445.95,341.5) scale(0.346,0.417)">G</text>
<text x="0" y="0" font-size="10" font-weight="bold" fill="#e8424a" stroke="#e8424a" stroke-width="0.35" transform="translate(448.65,341.5) scale(0.410,0.917)">T</text>
<text x="0" y="0" font-size="10" font-weight="bold" fill="#f5a623" stroke="#f5a623" stroke-width="0.35" transform="translate(451.15,341.5) scale(0.372,0.958)">G</text>
<text x="0" y="0" font-size="10" font-weight="bold" fill="#3cb043" stroke="#3cb043" stroke-width="0.35" transform="translate(454.05,341.5) scale(0.347,0.528)">A</text>
<text x="0" y="0" font-size="10" font-weight="bold" fill="#3cb043" stroke="#3cb043" stroke-width="0.35" transform="translate(456.55,341.5) scale(0.201,0.125)">A</text>
<text x="0" y="0" font-size="10" font-weight="bold" fill="#f5a623" stroke="#f5a623" stroke-width="0.35" transform="translate(458.00,341.5) scale(0.186,0.125)">G</text>
<text x="0" y="0" font-size="10" font-weight="bold" fill="#2a78c8" stroke="#2a78c8" stroke-width="0.35" transform="translate(435.20,351.0) scale(0.417,0.458)">C</text>
<text x="0" y="0" font-size="10" font-weight="bold" fill="#2a78c8" stroke="#2a78c8" stroke-width="0.35" transform="translate(438.20,351.0) scale(0.417,0.972)">C</text>
<text x="0" y="0" font-size="10" font-weight="bold" fill="#3cb043" stroke="#3cb043" stroke-width="0.35" transform="translate(441.20,351.0) scale(0.389,0.806)">A</text>
<text x="0" y="0" font-size="10" font-weight="bold" fill="#2a78c8" stroke="#2a78c8" stroke-width="0.35" transform="translate(444.00,351.0) scale(0.347,0.806)">C</text>
<text x="0" y="0" font-size="10" font-weight="bold" fill="#f5a623" stroke="#f5a623" stroke-width="0.35" transform="translate(446.50,351.0) scale(0.359,0.611)">G</text>
<text x="0" y="0" font-size="10" font-weight="bold" fill="#e8424a" stroke="#e8424a" stroke-width="0.35" transform="translate(449.30,351.0) scale(0.410,0.778)">T</text>
<text x="0" y="0" font-size="10" font-weight="bold" fill="#f5a623" stroke="#f5a623" stroke-width="0.35" transform="translate(451.80,351.0) scale(0.423,0.931)">G</text>
<text x="0" y="0" font-size="10" font-weight="bold" fill="#3cb043" stroke="#3cb043" stroke-width="0.35" transform="translate(455.10,351.0) scale(0.236,0.208)">A</text>
<text x="0" y="0" font-size="10" font-weight="bold" fill="#3cb043" stroke="#3cb043" stroke-width="0.35" transform="translate(433.00,365.7) scale(0.236,0.208)">A</text>
<text x="0" y="0" font-size="10" font-weight="bold" fill="#2a78c8" stroke="#2a78c8" stroke-width="0.35" transform="translate(434.70,365.7) scale(0.417,0.417)">C</text>
<text x="0" y="0" font-size="10" font-weight="bold" fill="#2a78c8" stroke="#2a78c8" stroke-width="0.35" transform="translate(437.70,365.7) scale(0.417,0.625)">C</text>
<text x="0" y="0" font-size="10" font-weight="bold" fill="#f5a623" stroke="#f5a623" stroke-width="0.35" transform="translate(440.70,365.7) scale(0.423,0.944)">G</text>
<text x="0" y="0" font-size="10" font-weight="bold" fill="#f5a623" stroke="#f5a623" stroke-width="0.35" transform="translate(444.00,365.7) scale(0.359,0.944)">G</text>
<text x="0" y="0" font-size="10" font-weight="bold" fill="#3cb043" stroke="#3cb043" stroke-width="0.35" transform="translate(446.80,365.7) scale(0.333,0.764)">A</text>
<text x="0" y="0" font-size="10" font-weight="bold" fill="#f5a623" stroke="#f5a623" stroke-width="0.35" transform="translate(449.20,365.7) scale(0.410,0.347)">G</text>
<text x="0" y="0" font-size="10" font-weight="bold" fill="#3cb043" stroke="#3cb043" stroke-width="0.35" transform="translate(452.40,365.7) scale(0.201,0.125)">A</text>
<text x="0" y="0" font-size="10" font-weight="bold" fill="#e8424a" stroke="#e8424a" stroke-width="0.35" transform="translate(453.85,365.7) scale(0.238,0.125)">T</text>
<text x="0" y="0" font-size="10" font-weight="bold" fill="#e8424a" stroke="#e8424a" stroke-width="0.35" transform="translate(455.30,365.7) scale(0.238,0.125)">T</text>
<text x="0" y="0" font-size="10" font-weight="bold" fill="#f5a623" stroke="#f5a623" stroke-width="0.35" transform="translate(431.50,378.6) scale(0.186,0.125)">G</text>
<text x="0" y="0" font-size="10" font-weight="bold" fill="#3cb043" stroke="#3cb043" stroke-width="0.35" transform="translate(432.95,378.6) scale(0.201,0.125)">A</text>
<text x="0" y="0" font-size="10" font-weight="bold" fill="#3cb043" stroke="#3cb043" stroke-width="0.35" transform="translate(434.40,378.6) scale(0.222,0.167)">A</text>
<text x="0" y="0" font-size="10" font-weight="bold" fill="#e8424a" stroke="#e8424a" stroke-width="0.35" transform="translate(436.00,378.6) scale(0.459,0.889)">T</text>
<text x="0" y="0" font-size="10" font-weight="bold" fill="#f5a623" stroke="#f5a623" stroke-width="0.35" transform="translate(438.80,378.6) scale(0.308,0.625)">G</text>
<text x="0" y="0" font-size="10" font-weight="bold" fill="#3cb043" stroke="#3cb043" stroke-width="0.35" transform="translate(441.20,378.6) scale(0.403,0.764)">A</text>
<text x="0" y="0" font-size="10" font-weight="bold" fill="#2a78c8" stroke="#2a78c8" stroke-width="0.35" transform="translate(444.10,378.6) scale(0.333,0.694)">C</text>
<text x="0" y="0" font-size="10" font-weight="bold" fill="#f5a623" stroke="#f5a623" stroke-width="0.35" transform="translate(446.50,378.6) scale(0.410,0.694)">G</text>
<text x="0" y="0" font-size="10" font-weight="bold" fill="#e8424a" stroke="#e8424a" stroke-width="0.35" transform="translate(449.70,378.6) scale(0.393,0.889)">T</text>
<text x="0" y="0" font-size="10" font-weight="bold" fill="#2a78c8" stroke="#2a78c8" stroke-width="0.35" transform="translate(452.10,378.6) scale(0.458,0.417)">C</text>
<text x="0" y="0" font-size="10" font-weight="bold" fill="#3cb043" stroke="#3cb043" stroke-width="0.35" transform="translate(455.40,378.6) scale(0.444,0.889)">A</text>
<text x="0" y="0" font-size="10" font-weight="bold" fill="#f5a623" stroke="#f5a623" stroke-width="0.35" transform="translate(458.60,378.6) scale(0.186,0.125)">G</text></svg></body></html>
